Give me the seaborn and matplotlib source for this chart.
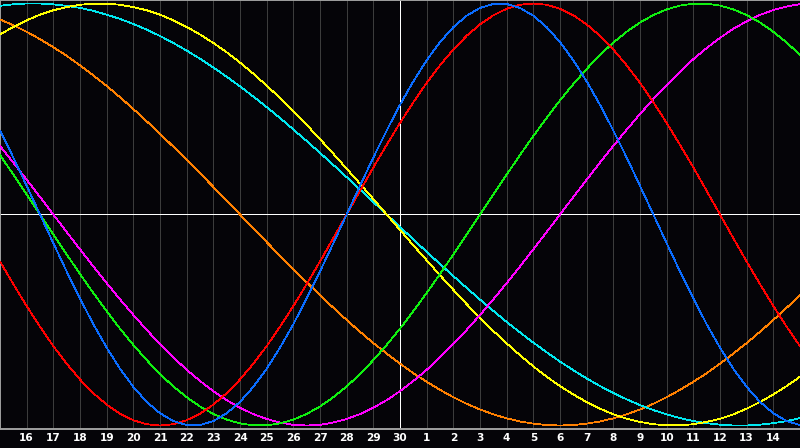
import numpy as np
import pandas as pd
import matplotlib
matplotlib.use("Agg")
import matplotlib.pyplot as plt
import seaborn as sns

# Day labels along the x axis
tick_days = [16, 17, 18, 19, 20, 21, 22, 23, 24, 25, 26, 27, 28, 29, 30,
             1, 2, 3, 4, 5, 6, 7, 8, 9, 10, 11, 12, 13, 14]

# Values read every half day, from the left edge (day 15) to the right edge (day 15)
red = [-0.223, -0.330, -0.434, -0.532, -0.624, -0.707, -0.782, -0.847, -0.901, -0.944,
       -0.975, -0.994, -1.0, -0.994, -0.975, -0.944, -0.901, -0.847, -0.782, -0.707,
       -0.624, -0.532, -0.434, -0.330, -0.223, -0.112, 0.0, 0.112, 0.223, 0.330,
       0.434, 0.532, 0.624, 0.707, 0.782, 0.847, 0.901, 0.944, 0.975, 0.994,
       1.0, 0.994, 0.975, 0.944, 0.901, 0.847, 0.782, 0.707, 0.624, 0.532,
       0.434, 0.330, 0.223, 0.112, 0.0, -0.112, -0.223, -0.330, -0.434, -0.532,
       -0.624]
blue = [0.398, 0.270, 0.136, 0.0, -0.136, -0.270, -0.398, -0.520, -0.631, -0.731,
        -0.817, -0.888, -0.942, -0.979, -0.998, -0.998, -0.979, -0.942, -0.888, -0.817,
        -0.731, -0.631, -0.520, -0.398, -0.270, -0.136, 0.0, 0.136, 0.270, 0.398,
        0.520, 0.631, 0.731, 0.817, 0.888, 0.942, 0.979, 0.998, 0.998, 0.979,
        0.942, 0.888, 0.817, 0.731, 0.631, 0.520, 0.398, 0.270, 0.136, 0.0,
        -0.136, -0.270, -0.398, -0.520, -0.631, -0.731, -0.817, -0.888, -0.942, -0.979,
        -0.998]
green = [0.282, 0.189, 0.095, 0.0, -0.095, -0.189, -0.282, -0.372, -0.458, -0.541,
         -0.618, -0.690, -0.756, -0.815, -0.866, -0.910, -0.945, -0.972, -0.990, -0.999,
         -0.999, -0.990, -0.972, -0.945, -0.910, -0.866, -0.815, -0.756, -0.690, -0.618,
         -0.541, -0.458, -0.372, -0.282, -0.189, -0.095, 0.0, 0.095, 0.189, 0.282,
         0.372, 0.458, 0.541, 0.618, 0.690, 0.756, 0.815, 0.866, 0.910, 0.945,
         0.972, 0.990, 0.999, 0.999, 0.990, 0.972, 0.945, 0.910, 0.866, 0.815,
         0.756]
magenta = [0.325, 0.246, 0.165, 0.083, 0.0, -0.083, -0.165, -0.246, -0.325, -0.402,
           -0.476, -0.547, -0.614, -0.677, -0.736, -0.789, -0.837, -0.880, -0.916, -0.946,
           -0.969, -0.986, -0.997, -1.0, -0.997, -0.986, -0.969, -0.946, -0.916, -0.880,
           -0.837, -0.789, -0.736, -0.677, -0.614, -0.547, -0.476, -0.402, -0.325, -0.246,
           -0.165, -0.083, 0.0, 0.083, 0.165, 0.246, 0.325, 0.402, 0.476, 0.547,
           0.614, 0.677, 0.736, 0.789, 0.837, 0.880, 0.916, 0.946, 0.969, 0.986,
           0.997]
yellow = [0.853, 0.889, 0.920, 0.947, 0.968, 0.983, 0.994, 0.999, 0.999, 0.994,
          0.983, 0.968, 0.947, 0.920, 0.889, 0.853, 0.813, 0.769, 0.720, 0.667,
          0.611, 0.552, 0.489, 0.425, 0.357, 0.288, 0.217, 0.146, 0.073, 0.0,
          -0.073, -0.146, -0.217, -0.288, -0.357, -0.425, -0.489, -0.552, -0.611, -0.667,
          -0.720, -0.769, -0.813, -0.853, -0.889, -0.920, -0.947, -0.968, -0.983, -0.994,
          -0.999, -0.999, -0.994, -0.983, -0.968, -0.947, -0.920, -0.889, -0.853, -0.813,
          -0.769]
cyan = [0.989, 0.996, 1.000, 1.000, 0.996, 0.989, 0.979, 0.965, 0.947, 0.927,
        0.903, 0.876, 0.846, 0.813, 0.777, 0.738, 0.697, 0.653, 0.607, 0.559,
        0.509, 0.457, 0.403, 0.348, 0.292, 0.235, 0.177, 0.118, 0.059, 0.0,
        -0.059, -0.118, -0.177, -0.235, -0.292, -0.348, -0.403, -0.457, -0.509, -0.559,
        -0.607, -0.653, -0.697, -0.738, -0.777, -0.813, -0.846, -0.876, -0.903, -0.927,
        -0.947, -0.965, -0.979, -0.989, -0.996, -1.000, -1.000, -0.996, -0.989, -0.979,
        -0.965]
orange = [0.924, 0.897, 0.866, 0.831, 0.793, 0.752, 0.707, 0.659, 0.609, 0.556,
          0.500, 0.442, 0.383, 0.321, 0.259, 0.195, 0.131, 0.065, 0.0, -0.065,
          -0.131, -0.195, -0.259, -0.321, -0.383, -0.442, -0.500, -0.556, -0.609, -0.659,
          -0.707, -0.752, -0.793, -0.831, -0.866, -0.897, -0.924, -0.947, -0.966, -0.981,
          -0.991, -0.998, -1.0, -0.998, -0.991, -0.981, -0.966, -0.947, -0.924, -0.897,
          -0.866, -0.831, -0.793, -0.752, -0.707, -0.659, -0.609, -0.556, -0.500, -0.442,
          -0.383]

series = {"orange": orange, "cyan": cyan, "yellow": yellow, "magenta": magenta,
          "green": green, "red": red, "blue": blue}
palette = {"red": "#ff0000", "blue": "#0a6cff", "green": "#10f010",
           "magenta": "#ff00ff", "yellow": "#ffff00", "cyan": "#00e8f0",
           "orange": "#ff8000"}

# sample positions (in days, 0 = first labelled day)
pos = np.arange(len(red)) * 0.5 - 1.0
frames = [pd.DataFrame({"pos": pos, "value": vals, "series": name})
          for name, vals in series.items()]
df = pd.concat(frames, ignore_index=True)

sns.set_style("dark")
plt.rcParams["font.family"] = ["DejaVu Sans"]

bg = "#050408"
fig = plt.figure(figsize=(8, 4.48), dpi=100)
fig.patch.set_facecolor(bg)
ax = fig.add_axes([0, 19.5 / 448, 1, 428 / 448])
ax.set_facecolor(bg)

ax.set_xlim(-1, 29)
ax.set_ylim(-1.0142, 1.0142)

ax.set_xticks(range(len(tick_days)))
ax.set_xticklabels([str(d) for d in tick_days], color="white",
                   fontsize=7.6, fontweight="bold")
ax.tick_params(axis="x", length=0, pad=3.5)
ax.set_yticks([])
ax.grid(False)
for p in range(len(tick_days)):
    ax.axvline(p, color="#3c3c3c", lw=0.7, antialiased=False, zorder=1)

ax.axhline(0, color="white", lw=0.7, antialiased=False, zorder=2)
ax.axvline(14, color="white", lw=0.7, antialiased=False, zorder=2)

sns.lineplot(data=df, x="pos", y="value", hue="series", palette=palette,
             hue_order=list(series.keys()), legend=False, estimator=None,
             sort=False, linewidth=0.55, antialiased=False, ax=ax, zorder=3)

for side in ["left", "top", "bottom"]:
    ax.spines[side].set_visible(True)
    ax.spines[side].set_color("#a0a0a0")
    ax.spines[side].set_linewidth(1.4)
ax.spines["right"].set_visible(False)
ax.set_xlabel("")
ax.set_ylabel("")

fig.savefig("out.png", dpi=100, facecolor=bg)
